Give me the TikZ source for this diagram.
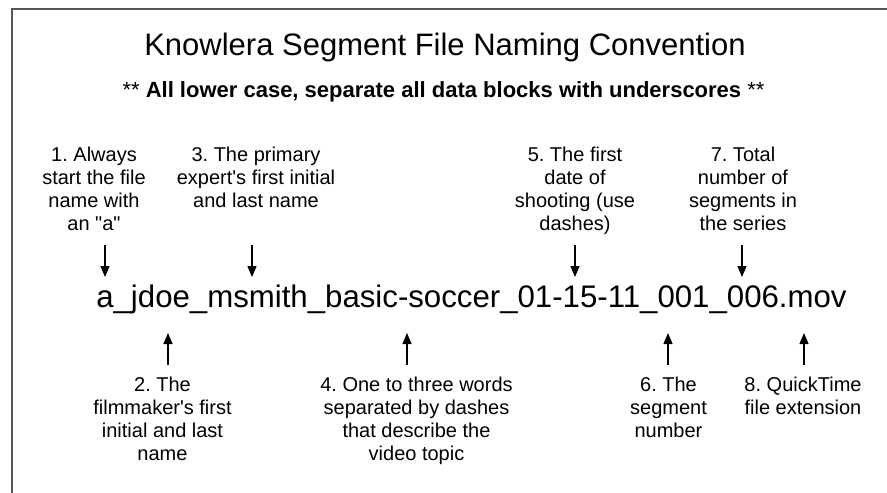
\documentclass[tikz,border=0pt]{standalone}
\usepackage{fontspec}
\setmainfont{Liberation Sans}
\newfontfamily\plainfont{Liberation Sans}
\usetikzlibrary{arrows.meta}
\definecolor{framegray}{RGB}{85,85,85}
\frenchspacing
\tikzset{
  every node/.style={inner sep=0pt},
  lbl/.style={align=center, anchor=north, font=\plainfont\fontsize{20}{23}\selectfont},
  arr/.style={line width=1.3pt, -{Triangle[length=11pt,width=9pt]}},
}
\begin{document}
\begin{tikzpicture}[x=1pt,y=-1pt]
\useasboundingbox (0,0) rectangle (887,493);
\fill[white] (0,0) rectangle (887,493);
\draw[framegray, line width=2pt] (12,493) -- (12,9) -- (887,9);

\node[anchor=base, font=\plainfont\fontsize{31}{36}\selectfont] (title) at (445,55) {Knowlera Segment File Naming Convention};
\node[anchor=base, font=\plainfont\fontsize{22}{26}\selectfont] (sub) at (443.5,97) {** \textbf{All lower case, separate all data blocks with underscores} **};

\node[anchor=base, font=\plainfont\fontsize{31.2}{36}\selectfont] (fn) at (471.5,307) {a\_jdoe\_msmith\_basic-soccer\_01-15-11\_001\_006.mov};

% top labels
\node[lbl] (l1) at (94,147) {1. Always\\start the file\\name with\\an "a"};
\node[lbl] (l3) at (256,147) {3. The primary\\expert's first initial\\and last name};
\node[lbl] (l5) at (575,147) {5. The first\\date of\\shooting (use\\dashes)};
\node[lbl] (l7) at (743,147) {7. Total\\number of\\segments in\\the series};

% bottom labels
\node[lbl] (l2) at (162.5,377) {2. The\\filmmaker's first\\initial and last\\name};
\node[lbl] (l4) at (416.5,377) {4. One to three words\\separated by dashes\\that describe the\\video topic};
\node[lbl] (l6) at (668.5,377) {6. The\\segment\\number};
\node[lbl] (l8) at (803,377) {8. QuickTime\\file extension};

% arrow endpoints
\coordinate (a1s) at (105,245); \coordinate (a1e) at (105,277);
\coordinate (a3s) at (252,245); \coordinate (a3e) at (252,277);
\coordinate (a5s) at (575,245); \coordinate (a5e) at (575,277);
\coordinate (a7s) at (742,245); \coordinate (a7e) at (742,277);
\coordinate (a2s) at (168,365); \coordinate (a2e) at (168,333);
\coordinate (a4s) at (407,365); \coordinate (a4e) at (407,333);
\coordinate (a6s) at (668,365); \coordinate (a6e) at (668,333);
\coordinate (a8s) at (804,365); \coordinate (a8e) at (804,333);

\draw[arr] (a1s) -- (a1e);
\draw[arr] (a3s) -- (a3e);
\draw[arr] (a5s) -- (a5e);
\draw[arr] (a7s) -- (a7e);
\draw[arr] (a2s) -- (a2e);
\draw[arr] (a4s) -- (a4e);
\draw[arr] (a6s) -- (a6e);
\draw[arr] (a8s) -- (a8e);
\end{tikzpicture}
\end{document}
